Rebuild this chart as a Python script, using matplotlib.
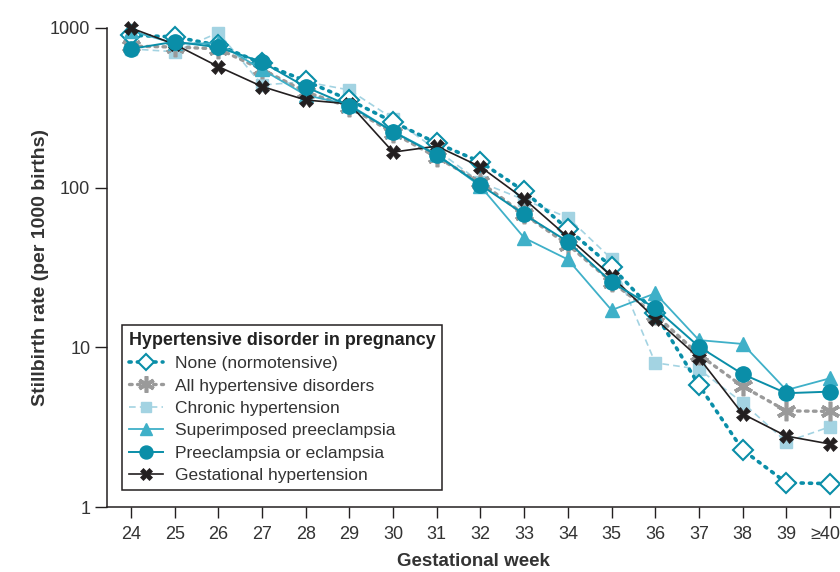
import matplotlib
matplotlib.use("Agg")
import matplotlib.pyplot as plt
from matplotlib import font_manager
from matplotlib.transforms import ScaledTranslation

names = {f.name for f in font_manager.fontManager.ttflist}
if 'Liberation Sans Narrow' in names:
    FAM = ['Liberation Sans Narrow', 'DejaVu Sans']
    NARROW = True
else:
    FAM = ['Liberation Sans', 'DejaVu Sans']
    NARROW = False
plt.rcParams['font.family'] = FAM

weeks = [24, 25, 26, 27, 28, 29, 30, 31, 32, 33, 34, 35, 36, 37, 38, 39, 40]
week_labels = ['24', '25', '26', '27', '28', '29', '30', '31', '32', '33', '34',
               '35', '36', '37', '38', '39', '≥40']

none_normo = [900, 880, 780, 600, 466, 354, 258, 190, 145, 95, 55, 32, 16.4, 5.8, 2.28, 1.42, 1.40]
all_hyp = [770, 760, 740, 550, 398, 320, 220, 155, 108, 68, 44, 25.7, 16, 9.0, 5.7, 4.0, 3.97]
chronic = [740, 710, 935, 440, 460, 409, 270, 172, 108, 84, 65, 35.8, 8.0, 7.3, 4.5, 2.56, 3.18]
superimposed = [960, 800, 800, 550, 380, 330, 225, 162, 102, 48.5, 35.5, 17.1, 21.8, 11.1, 10.5, 5.4, 6.4]
preeclampsia = [740, 820, 757, 612, 427, 326, 224, 160, 104, 68, 45.9, 25.6, 17.6, 10.1, 6.8, 5.16, 5.28]
gestational = [1000, 790, 573, 430, 354, 335, 167, 182, 135, 85, 49, 27.9, 15.1, 8.6, 3.83, 2.78, 2.48]

TEAL = '#0a8ea8'
CYAN = '#3fb0c8'
LIGHT = '#a3d3e2'
GRAY = '#9a9a9a'
BLACK = '#231f20'
TXT = '#333333'

fig = plt.figure(figsize=(8.4, 5.72), dpi=100)
ax = fig.add_axes([107/840, 1-507/572, 733/840, 479/572])

h_chronic, = ax.plot(weeks, chronic, color=LIGHT, lw=1.2, ls=(0, (4, 2.5)), marker='s', ms=9,
                     mfc=LIGHT, mec=LIGHT, label='Chronic hypertension', clip_on=False, zorder=2)
h_all, = ax.plot(weeks, all_hyp, color=GRAY, lw=2.4, ls=(0, (0.8, 1.6)), marker=(6, 2, 0), ms=14,
                 mew=2.6, mec=GRAY, label='All hypertensive disorders', clip_on=False, zorder=3,
                 dash_capstyle='round')
h_none, = ax.plot(weeks, none_normo, color=TEAL, lw=2.6, ls=(0, (0.6, 1.7)), marker='D', ms=10,
                  mfc='white', mec=TEAL, mew=1.5, label='None (normotensive)', clip_on=False, zorder=4,
                  dash_capstyle='round')
h_sup, = ax.plot(weeks, superimposed, color=CYAN, lw=1.3, marker='^', ms=10, mfc=CYAN, mec=CYAN,
                 label='Superimposed preeclampsia', clip_on=False, zorder=5)
h_gest, = ax.plot(weeks, gestational, color=BLACK, lw=1.2, marker='X', ms=9.5, mfc=BLACK, mec=BLACK,
                  mew=0.5, label='Gestational hypertension', clip_on=False, zorder=6)
h_pre, = ax.plot(weeks, preeclampsia, color=TEAL, lw=1.4, marker='o', ms=11, mfc=TEAL, mec=TEAL,
                 label='Preeclampsia or eclampsia', clip_on=False, zorder=7)

tick_fs = 15 if NARROW else 13
ax.set_yscale('log')
ax.set_ylim(1, 1000)
ax.set_xlim(24 - 24/43.7, 40 + 10/43.7)
ax.set_yticks([1, 10, 100, 1000])
ax.set_yticklabels(['1', '10', '100', '1000'])
ax.minorticks_off()
ax.set_xticks(weeks)
ax.set_xticklabels(week_labels)
ax.tick_params(axis='y', direction='out', length=9, width=1, pad=3, labelsize=tick_fs, colors=BLACK,
               labelcolor=TXT)
ax.tick_params(axis='x', direction='out', length=8, width=1, pad=6, labelsize=tick_fs, colors=BLACK,
               labelcolor=TXT)
last = ax.get_xticklabels()[-1]
last.set_transform(last.get_transform() + ScaledTranslation(-5/100, 0, fig.dpi_scale_trans))

for s in ['top', 'right']:
    ax.spines[s].set_visible(False)
for s in ['left', 'bottom']:
    ax.spines[s].set_linewidth(1.1)
    ax.spines[s].set_color(BLACK)

lab_fs = 15 if NARROW else 13.5
ax.set_xlabel('Gestational week', fontsize=lab_fs, fontweight='bold', color=TXT, labelpad=7)
ax.set_ylabel('Stillbirth rate (per 1000 births)', fontsize=lab_fs + 0.5, fontweight='bold', color=TXT,
              labelpad=1)

leg_fs = 13.5 if NARROW else 12.5
leg = ax.legend(handles=[h_none, h_all, h_chronic, h_sup, h_pre, h_gest],
                title='Hypertensive disorder in pregnancy', loc='lower left',
                bbox_to_anchor=(0.02, 0.035), borderaxespad=0, fontsize=leg_fs,
                title_fontproperties={'weight': 'bold', 'size': leg_fs + 0.4, 'family': FAM},
                handlelength=2.0, handletextpad=0.7, labelspacing=0.42, borderpad=0.4,
                fancybox=False, edgecolor=BLACK, framealpha=1, alignment='left',
                markerscale=0.85)
leg.get_frame().set_linewidth(1.1)
for t in leg.get_texts():
    t.set_color(TXT)
leg.get_title().set_color('#222222')

fig.savefig('out.png', dpi=100)
